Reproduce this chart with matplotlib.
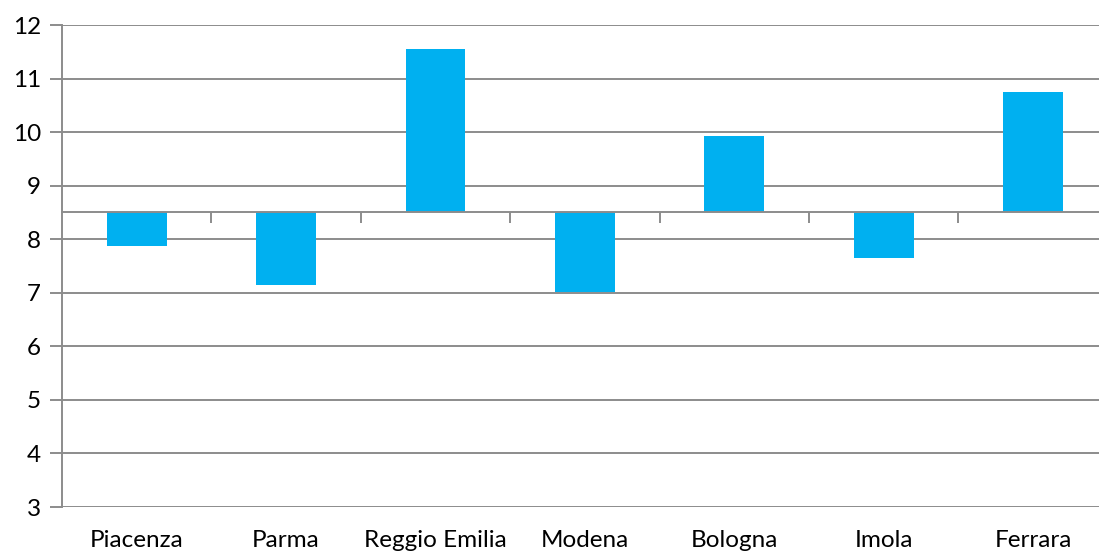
import matplotlib
matplotlib.use("Agg")
import matplotlib.pyplot as plt
import matplotlib.transforms as mtransforms
import numpy as np

categories = ["Piacenza", "Parma", "Reggio Emilia", "Modena", "Bologna", "Imola", "Ferrara"]
values = [7.88, 7.14, 11.56, 7.01, 9.92, 7.65, 10.75]
baseline = 8.5
yticks = [3, 4, 5, 6, 7, 8, 9, 10, 11, 12]

plt.rcParams['font.family'] = ['Lato', 'DejaVu Sans']

W, H = 1099, 552
fig = plt.figure(figsize=(W / 100, H / 100), dpi=100)
left = 62 / W
right = (62 + 7 * 149.4) / W
ax = fig.add_axes([left, 1 - 507 / H, right - left, (507 - 25) / H])

x = np.arange(len(categories))
vals = np.array(values)
ax.bar(x, vals - baseline, bottom=baseline, width=0.4, color="#00B0F0", zorder=3)

grid_c = "#8c8c8c"
ax.set_xlim(-0.5, len(categories) - 0.5)
ax.set_ylim(3, 12)
ax.set_yticks(yticks)
ax.yaxis.grid(True, color=grid_c, linewidth=1.4, zorder=0)
ax.set_axisbelow(True)
ax.tick_params(axis='y', length=9, width=1.4, color=grid_c, labelsize=17.5, pad=6, labelcolor="black")

for s in ["top", "right"]:
    ax.spines[s].set_visible(False)
ax.spines["left"].set_color(grid_c)
ax.spines["left"].set_linewidth(1.4)
ax.spines["bottom"].set_position(("data", baseline))
ax.spines["bottom"].set_color(grid_c)
ax.spines["bottom"].set_linewidth(1.4)
ax.spines["bottom"].set_zorder(4)

ax.set_xticks(x)
ax.set_xticklabels([])
ax.tick_params(axis='x', which='major', length=0)
ax.set_xticks(np.arange(0.5, len(categories) - 0.5, 1.0), minor=True)
ax.tick_params(axis='x', which='minor', length=8, width=1.4, color=grid_c, direction='out')

trans = mtransforms.blended_transform_factory(ax.transData, ax.transAxes)
for xi, name in zip(x, categories):
    ax.text(xi, -0.07, name, transform=trans, ha='center', va='center', fontsize=17.5, color="black")

fig.savefig("out.png", dpi=100)
